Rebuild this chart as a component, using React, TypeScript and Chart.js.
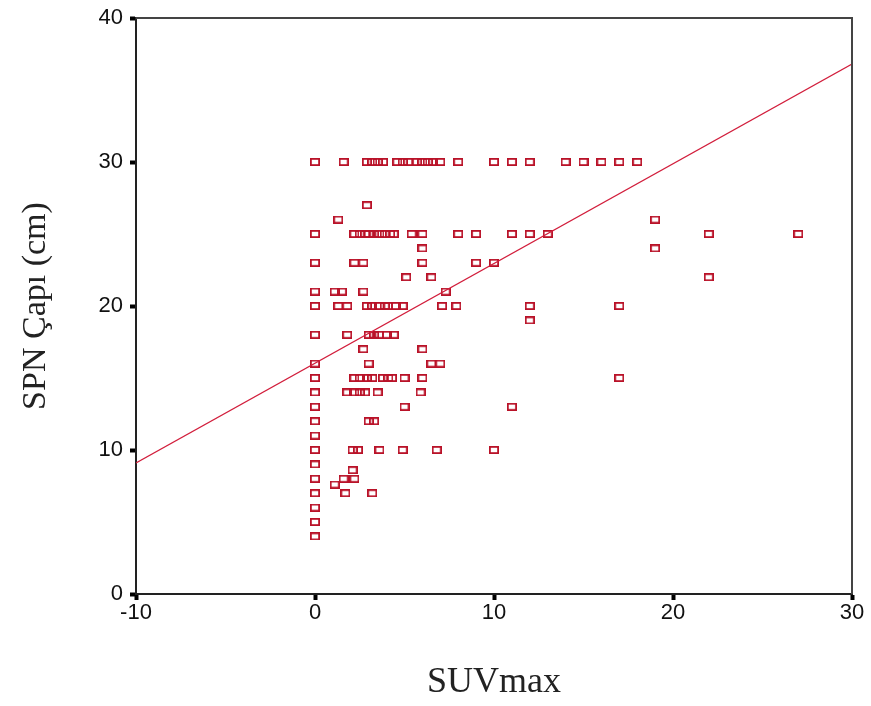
import { useEffect, useRef } from "react";
import { Chart, registerables } from "chart.js";

Chart.register(...registerables);

const xTicks = [-10, 0, 10, 20, 30];
const yTicks = [0, 10, 20, 30, 40];
const xTitle = "SUVmax";
const yTitle = "SPN Çapı (cm)";

// SUVmax values (x) and SPN diameter (y), row by row
const suvmax = [
  0, 1.6, 2.9, 3.2, 3.5, 3.8, 4.6, 4.9, 5.2, 5.7, 6.0, 6.3, 6.6, 7.0, 8.0, 10, 11, 12, 14, 15, 16, 17, 18,
  2.9,
  1.3, 19,
  0, 2.2, 2.5, 2.8, 3.0, 3.3, 3.6, 3.9, 4.2, 4.4, 5.4, 6.0, 8.0, 9.0, 11, 12, 13, 22, 27,
  6.0, 19,
  0, 2.2, 2.7, 6.0, 9.0, 10,
  5.1, 6.5, 22,
  0, 1.1, 1.5, 2.7, 7.3,
  0, 1.3, 1.8, 2.9, 3.2, 3.6, 3.9, 4.1, 4.5, 4.9, 7.1, 7.9, 12, 17,
  12,
  0, 1.8, 3.0, 3.3, 3.6, 4.0, 4.4,
  2.7, 6.0,
  0, 3.0, 6.5, 7.0,
  0, 2.2, 2.5, 2.9, 3.2, 3.8, 4.1, 4.3, 5.0, 6.0, 17,
  0, 1.8, 2.2, 2.5, 2.8, 3.5, 5.9,
  0, 5.0, 11,
  0, 3.0, 3.3,
  0,
  0, 2.1, 2.4, 3.6, 4.9, 6.8, 10,
  0,
  2.1,
  0, 1.6, 2.2,
  1.1,
  0, 1.7, 3.2,
  0,
  0,
  0,
];
const spnDiameter = [
  30, 30, 30, 30, 30, 30, 30, 30, 30, 30, 30, 30, 30, 30, 30, 30, 30, 30, 30, 30, 30, 30, 30,
  27,
  26, 26,
  25, 25, 25, 25, 25, 25, 25, 25, 25, 25, 25, 25, 25, 25, 25, 25, 25, 25, 25,
  24, 24,
  23, 23, 23, 23, 23, 23,
  22, 22, 22,
  21, 21, 21, 21, 21,
  20, 20, 20, 20, 20, 20, 20, 20, 20, 20, 20, 20, 20, 20,
  19,
  18, 18, 18, 18, 18, 18, 18,
  17, 17,
  16, 16, 16, 16,
  15, 15, 15, 15, 15, 15, 15, 15, 15, 15, 15,
  14, 14, 14, 14, 14, 14, 14,
  13, 13, 13,
  12, 12, 12,
  11,
  10, 10, 10, 10, 10, 10, 10,
  9,
  8.6,
  8, 8, 8,
  7.6,
  7, 7, 7,
  6,
  5,
  4,
];

// fit line end points
const fitX = [-10, 30];
const fitY = [9.1, 36.8];

const RED = "rgb(185, 18, 40)";

function makeMarker(): HTMLCanvasElement {
  const c = document.createElement("canvas");
  c.width = 10;
  c.height = 8;
  const g = c.getContext("2d")!;
  g.strokeStyle = RED;
  g.lineWidth = 1.8;
  g.strokeRect(0.9, 0.9, 8.2, 6.2);
  return c;
}

const framePlugin = {
  id: "frame",
  afterDraw(chart: any) {
    const { ctx, chartArea: a } = chart;
    ctx.save();
    ctx.strokeStyle = "#444";
    ctx.lineWidth = 2;
    ctx.beginPath();
    ctx.moveTo(a.left, a.top);
    ctx.lineTo(a.right, a.top);
    ctx.lineTo(a.right, a.bottom);
    ctx.stroke();
    ctx.restore();
  },
};

export default function App() {
  const ref = useRef<HTMLCanvasElement | null>(null);

  useEffect(() => {
    if (!ref.current) return;
    const marker = makeMarker();
    const points = suvmax.map((x, i) => ({ x, y: spnDiameter[i] }));
    const fit = fitX.map((x, i) => ({ x, y: fitY[i] }));
    const tickFont = { family: "'Liberation Sans', Arial, sans-serif", size: 22, lineHeight: 1 };
    const xTitleFont = { family: "'Liberation Serif', 'Times New Roman', serif", size: 36, lineHeight: 1 };
    const yTitleFont = { family: "'Liberation Serif', 'Times New Roman', serif", size: 34, lineHeight: 1 };

    const chart = new Chart(ref.current, {
      type: "scatter",
      data: {
        datasets: [
          {
            type: "line",
            data: fit,
            borderColor: "rgb(210, 30, 60)",
            borderWidth: 1.2,
            pointRadius: 0,
            fill: false,
          } as any,
          {
            data: points,
            pointStyle: marker as any,
            pointRadius: 5,
            pointHoverRadius: 5,
          },
        ],
      },
      plugins: [framePlugin],
      options: {
        animation: false,
        responsive: false,
        events: [],
        layout: { padding: { top: 12, right: 19, bottom: 0, left: 0 } },
        plugins: { legend: { display: false }, tooltip: { enabled: false } },
        scales: {
          x: {
            type: "linear",
            position: "bottom",
            min: -10,
            max: 30,
            afterBuildTicks: (s: any) => {
              s.ticks = xTicks.map((v) => ({ value: v }));
            },
            afterFit: (s: any) => {
              s.height = 112;
            },
            grid: { drawOnChartArea: false, drawTicks: true, tickLength: 6, tickWidth: 4, tickColor: "#000" },
            border: { color: "#222", width: 2 },
            ticks: { color: "#111", font: tickFont, padding: 2, maxRotation: 0 },
            title: { display: true, text: xTitle, color: "#222", font: xTitleFont, padding: { top: 0, bottom: 5 } },
          },
          y: {
            type: "linear",
            min: 0,
            max: 40,
            afterBuildTicks: (s: any) => {
              s.ticks = yTicks.map((v) => ({ value: v }));
            },
            afterFit: (s: any) => {
              s.width = 136;
            },
            grid: { drawOnChartArea: false, drawTicks: true, tickLength: 6, tickWidth: 4, tickColor: "#000" },
            border: { color: "#222", width: 2 },
            ticks: { color: "#111", font: tickFont, padding: 7 },
            title: { display: true, text: yTitle, color: "#222", font: yTitleFont, padding: { top: 19, bottom: 0 } },
          },
        },
      },
    });
    return () => chart.destroy();
  }, []);

  return (
    <div style={{ position: "absolute", left: 0, top: 0, width: 871, height: 706, background: "#fff" }}>
      <canvas ref={ref} width={871} height={706} style={{ display: "block" }} />
    </div>
  );
}
